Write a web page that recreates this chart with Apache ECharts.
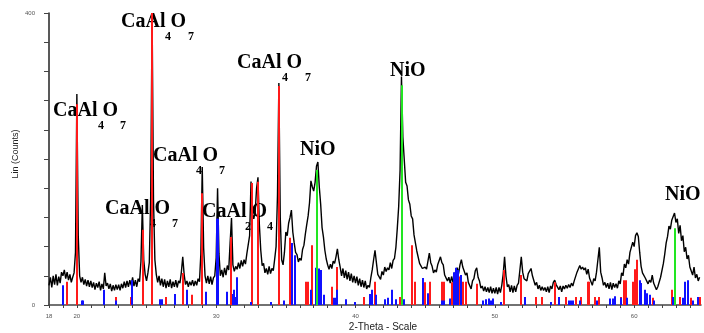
<!DOCTYPE html>
<html>
<head>
<meta charset="utf-8">
<script src="https://cdn.jsdelivr.net/npm/echarts@6/dist/echarts.min.js"></script>
<style>
  html, body { margin: 0; background: #fff; }
  #chart { width: 704px; height: 333px; }
</style>
</head>
<body>
<div id="chart"></div>
<script>
// scan: 2-theta from 18.0 in 0.1 degree steps
const scanStart = 18;
const scanStep = 0.1;
const counts = [
  27, 38, 24, 40, 28, 42, 27, 39, 30, 45,       // 18
  40, 48, 36, 45, 34, 42, 31, 38, 44, 72,       // 19
  289, 95, 40, 31, 38, 28, 35, 26, 34, 25,      // 20
  33, 24, 31, 21, 30, 24, 32, 20, 29, 22,       // 21
  44, 26, 30, 22, 29, 19, 27, 20, 28, 21,       // 22
  28, 20, 29, 23, 32, 24, 33, 25, 34, 27,       // 23
  38, 26, 34, 25, 36, 32, 60, 137, 62, 42,      // 24
  33, 44, 58, 150, 400, 145, 62, 42, 31, 40,    // 25
  27, 36, 25, 35, 23, 33, 25, 35, 23, 32,       // 26
  25, 34, 24, 33, 30, 45, 66, 42, 28, 33,       // 27
  25, 32, 27, 34, 26, 33, 27, 36, 32, 70,       // 28
  189, 78, 40, 30, 40, 29, 39, 28, 37, 40,      // 29
  65, 160, 70, 40, 48, 38, 51, 41, 54, 48,      // 30
  85, 119, 55, 46, 53, 49, 58, 50, 61, 53,      // 31
  62, 56, 70, 72, 95, 169, 125, 118, 128, 160,  // 32
  175, 110, 75, 54, 57, 44, 50, 42, 53, 43,     // 33
  50, 47, 63, 80, 150, 304, 120, 62, 55, 72,    // 34
  100, 95, 112, 120, 130, 100, 85, 72, 69, 59,  // 35
  64, 61, 76, 82, 97, 110, 122, 140, 170, 162,  // 36
  156, 168, 190, 196, 162, 138, 106, 93, 75, 63,// 37
  55, 49, 56, 50, 60, 57, 66, 77, 62, 52,       // 38
  40, 50, 37, 47, 35, 45, 33, 43, 31, 40,       // 39
  30, 39, 27, 36, 25, 34, 24, 33, 22, 27,       // 40
  24, 37, 48, 62, 75, 58, 42, 44, 35, 46,       // 41
  41, 52, 46, 51, 48, 58, 50, 61, 64, 79,       // 42
  105, 135, 185, 313, 230, 199, 168, 163, 144, 138, // 43
  122, 118, 96, 95, 74, 73, 57, 58, 50, 50,     // 44
  52, 49, 60, 71, 58, 53, 44, 48, 45, 55,       // 45
  53, 66, 58, 55, 41, 41, 33, 38, 30, 39,       // 46
  31, 41, 39, 51, 43, 55, 62, 52, 53, 41,       // 47
  44, 31, 32, 22, 33, 36, 47, 51, 38, 33,       // 48
  23, 26, 19, 25, 18, 24, 17, 25, 16, 23,       // 49
  16, 24, 15, 24, 17, 27, 42, 66, 40, 25,       // 50
  28, 18, 27, 17, 26, 18, 27, 30, 48, 66,       // 51
  45, 36, 37, 33, 43, 42, 50, 40, 38, 27,       // 52
  31, 22, 27, 20, 25, 20, 24, 18, 25, 17,       // 53
  26, 22, 31, 34, 28, 30, 21, 26, 18, 26,       // 54
  22, 27, 23, 28, 24, 30, 26, 33, 34, 45,       // 55
  43, 54, 49, 52, 48, 51, 42, 49, 37, 38,       // 56
  27, 36, 33, 45, 62, 79, 45, 37, 27, 31,       // 57
  24, 30, 22, 31, 21, 30, 24, 29, 23, 33,       // 58
  29, 44, 40, 56, 51, 62, 56, 72, 70, 86,       // 59
  80, 95, 99, 94, 72, 53, 44, 42, 37, 38,       // 60
  29, 34, 31, 41, 30, 32, 21, 25, 23, 38,       // 61
  40, 57, 70, 85, 94, 108, 104, 116, 117, 126,  // 62
  113, 118, 98, 109, 88, 95, 73, 79, 63, 68,    // 63
  52, 54, 41, 52, 37, 42, 33, 38                // 64
];

// reference patterns (stick lines)
const caAl4O7Pos = [19.27, 20.0, 22.78, 23.88, 24.72, 25.4, 26.37, 27.59, 28.23, 28.95,
  31.03, 32.54, 33.02, 34.5, 35.29, 36.47, 36.6, 36.86, 38.28, 38.68,
  40.62, 41.38, 43.18, 44.06, 44.3, 44.97, 45.17, 45.33, 46.22, 46.32,
  46.9, 47.48, 47.72, 47.96, 48.75, 50.64, 51.86, 52.93, 53.41, 54.3,
  55.14, 55.8, 56.16, 56.66, 56.76, 57.17, 57.48, 59.03, 59.3, 59.4,
  59.9, 60.08, 60.23, 61.35, 62.7, 63.27, 64.1, 64.75];
const caAl4O7H = [32, 275, 11, 11, 103, 400, 11, 44, 14, 153,
  93, 167, 169, 300, 92, 32, 32, 82, 25, 52,
  11, 32, 11, 82, 32, 31, 11, 32, 32, 32,
  31, 39, 32, 32, 29, 48, 41, 11, 11, 31,
  11, 11, 11, 32, 32, 11, 11, 11, 34, 34,
  32, 49, 62, 10, 21, 11, 10, 11];

const caAl2O4Pos = [18.98, 20.35, 20.45, 21.97, 22.78, 23.97, 25.97, 26.1, 27.04, 27.92,
  29.26, 30.03, 30.15, 30.75, 31.18, 31.28, 31.38, 31.46, 32.47, 33.97,
  34.88, 35.45, 35.68, 36.84, 37.2, 37.4, 37.5, 37.75, 38.47, 38.6,
  38.7, 39.35, 39.95, 41.07, 41.2, 41.5, 42.1, 42.34, 42.63, 42.94,
  43.47, 44.85, 45.2, 46.2, 46.35, 46.8, 47.1, 47.22, 47.35, 47.55,
  49.15, 49.4, 49.55, 49.7, 49.87, 50.47, 52.2, 54.01, 54.58, 55.3,
  55.45, 55.6, 56.09, 57.36, 58.3, 58.45, 58.6, 59.08, 59.5, 60.4,
  60.52, 60.76, 60.95, 61.11, 61.42, 62.79, 63.5, 63.67, 63.9, 64.23, 64.59];
const caAl2O4H = [27, 6, 6, 21, 6, 34, 8, 8, 15, 21,
  18, 118, 118, 18, 15, 21, 11, 38, 4, 4,
  6, 85, 68, 21, 51, 50, 48, 14, 10, 10,
  21, 8, 4, 15, 21, 14, 8, 10, 21, 8,
  8, 37, 16, 6, 6, 9, 45, 51, 48, 41,
  6, 8, 9, 6, 9, 4, 11, 4, 11, 6,
  6, 6, 6, 6, 9, 9, 12, 10, 10, 34,
  30, 21, 16, 14, 6, 11, 10, 32, 34, 6, 11];

const nioPos = [37.27, 43.32, 62.9];
const nioH = [185, 301, 105];

const xTickLabels = [18, 20, 30, 40, 50, 60];
const yTickLabels = [0, 400];

const scan = counts.map((c, i) => [+(scanStart + i * scanStep).toFixed(1), c]);

function stickSeries(name, color, pos, h) {
  return {
    type: 'custom',
    name: name,
    z: 5,
    clip: true,
    data: pos.map((p, i) => [p, h[i]]),
    renderItem: function (params, api) {
      const base = api.coord([api.value(0), 0]);
      const top = api.coord([api.value(0), api.value(1)]);
      return {
        type: 'rect',
        shape: { x: Math.round(base[0]) - 1, y: top[1], width: 2, height: base[1] - top[1] },
        style: { fill: color }
      };
    }
  };
}

// annotation labels (pixel layout)
const serif = 'bold 20px "Liberation Serif", "Times New Roman", serif';
const sub = 'bold 12px "Liberation Serif", "Times New Roman", serif';
function txt(t, x, y, font) {
  return { type: 'text', x: x, y: y, z: 1,
    style: { text: t, font: font, fill: '#000', verticalAlign: 'middle' } };
}
function formula(x, y, a, b, dxa, dxb) {
  return [txt('CaAl O', x, y, serif), txt(a, x + dxa, y + 15, sub), txt(b, x + dxb, y + 15, sub)];
}

const graphics = [].concat(
  formula(53, 111, '4', '7', 45, 67),
  formula(121, 22, '4', '7', 44, 67),
  formula(237, 63, '4', '7', 45, 68),
  formula(153, 156, '4', '7', 43, 66),
  formula(105, 209, '4', '7', 45, 67),
  formula(202, 212, '2', '4', 43, 65),
  [txt('NiO', 300, 150, serif), txt('NiO', 390, 71, serif), txt('NiO', 665, 195, serif),
   { type: 'text', x: 383, y: 327, style: { text: '2-Theta - Scale', font: '10px "Liberation Sans", Arial, sans-serif', fill: '#222', align: 'center', verticalAlign: 'middle' } },
   { type: 'text', x: 16, y: 154, rotation: Math.PI / 2, style: { text: 'Lin (Counts)', font: '9px "Liberation Sans", Arial, sans-serif', fill: '#222', align: 'center', verticalAlign: 'middle' } }]
);

const chart = echarts.init(document.getElementById('chart'));
chart.setOption({
  animation: false,
  backgroundColor: '#fff',
  grid: { left: 49, top: 13, width: 652, height: 292 },
  xAxis: {
    type: 'value', min: 18, max: 64.8, interval: 1,
    axisLine: { lineStyle: { color: '#444', width: 1.5 } },
    axisTick: { length: 3, lineStyle: { color: '#444' } },
    axisLabel: {
      fontSize: 6, color: '#555', margin: 8, showMaxLabel: false,
      fontFamily: '"Liberation Sans", Arial, sans-serif',
      formatter: v => xTickLabels.includes(v) ? String(v) : ''
    },
    splitLine: { show: false }
  },
  yAxis: {
    type: 'value', min: 0, max: 400, interval: 40,
    axisLine: { show: true, lineStyle: { color: '#222', width: 1.5 } },
    axisTick: { show: true, length: 5, lineStyle: { color: '#444' } },
    axisLabel: {
      fontSize: 6, color: '#555', margin: 14,
      fontFamily: '"Liberation Sans", Arial, sans-serif',
      formatter: v => yTickLabels.includes(v) ? String(v) : ''
    },
    splitLine: { show: false }
  },
  series: [
    {
      type: 'line', name: 'scan', data: scan, showSymbol: false, z: 3,
      lineStyle: { color: '#000', width: 1.4 }
    },
    stickSeries('CaAl4O7', '#ff1a1a', caAl4O7Pos, caAl4O7H),
    stickSeries('CaAl2O4', '#1010ff', caAl2O4Pos, caAl2O4H),
    stickSeries('NiO', '#22e622', nioPos, nioH)
  ],
  graphic: graphics
});
</script>
</body>
</html>
